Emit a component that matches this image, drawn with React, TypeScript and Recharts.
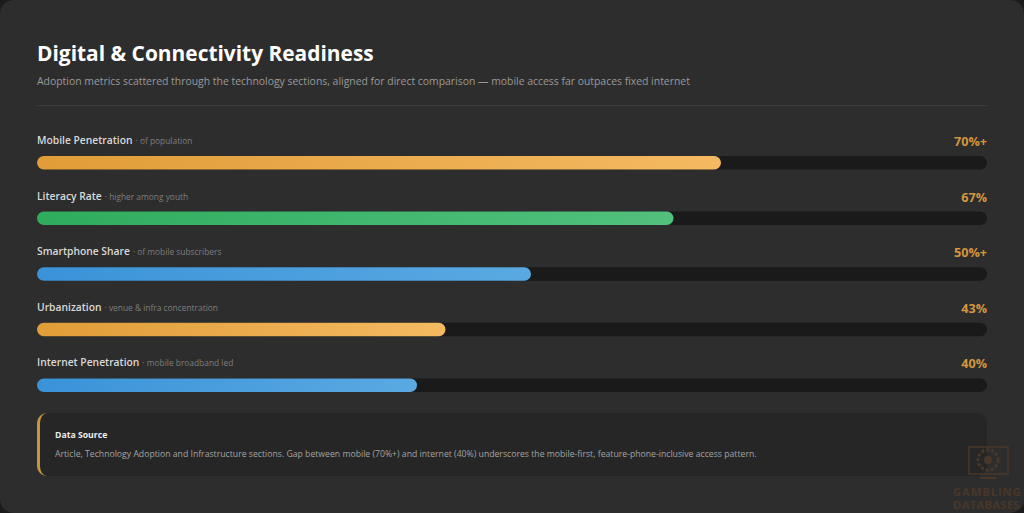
import { BarChart, Bar, XAxis, YAxis, Cell, LabelList } from "recharts";

const metrics = ["Mobile Penetration", "Literacy Rate", "Smartphone Share", "Urbanization", "Internet Penetration"];
const notes = ["of population", "higher among youth", "of mobile subscribers", "venue & infra concentration", "mobile broadband led"];
const fills = [72, 67, 52, 43, 40];
const valueLabels = ["70%+", "67%", "50%+", "43%", "40%"];
const tones = ["amber", "green", "blue", "amber", "blue"];

const FONT = '"Open Sans", "Noto Sans", sans-serif';
const rows = metrics.map((metric, i) => ({
  metric,
  note: notes[i],
  fill: fills[i],
  valueLabel: valueLabels[i],
  tone: tones[i],
}));

function RowLabel(props: any) {
  const { x, y, index } = props;
  const row = rows[index];
  return (
    <text x={x} y={y - 12} fontFamily={FONT}>
      <tspan fontSize={10.3} fontWeight={600} fill="#d9d9d9">{row.metric}</tspan>
      <tspan fontSize={8.4} fill="#7d7d7d" dx={3}>{"· " + row.note}</tspan>
    </text>
  );
}

function RowValue(props: any) {
  const { y, index } = props;
  return (
    <text x={950} y={y - 10} textAnchor="end" fontFamily={FONT} fontSize={12.6} fontWeight={700} fill="#d3963f">
      {rows[index].valueLabel}
    </text>
  );
}

export default function App() {
  return (
    <div style={{ position: "fixed", left: 0, top: 0, width: 1024, height: 513, background: "#1b1b1b", overflow: "hidden", fontFamily: FONT }}>
      <div style={{ position: "absolute", inset: 0, background: "#2d2d2d", borderRadius: 14 }} />
      <div style={{ position: "absolute", left: 37, top: 38, fontSize: 20.9, fontWeight: 700, color: "#ffffff", lineHeight: "30px", whiteSpace: "nowrap" }}>
        Digital &amp; Connectivity Readiness
      </div>
      <div style={{ position: "absolute", left: 37, top: 73, fontSize: 10.42, color: "#9a9a9a", lineHeight: "16px", whiteSpace: "nowrap" }}>
        Adoption metrics scattered through the technology sections, aligned for direct comparison — mobile access far outpaces fixed internet
      </div>
      <div style={{ position: "absolute", left: 37, top: 105, width: 950, height: 1, background: "#3b3b3b" }} />

      <div style={{ position: "absolute", left: 37, top: 114.5 }}>
        <BarChart width={950} height={298} data={rows} layout="vertical" margin={{ top: 20, right: 0, bottom: 0, left: 0 }}>
          <defs>
            <linearGradient id="tone-amber" x1="0" y1="0" x2="1" y2="0">
              <stop offset="0%" stopColor="#e09d38" />
              <stop offset="100%" stopColor="#f5b961" />
            </linearGradient>
            <linearGradient id="tone-green" x1="0" y1="0" x2="1" y2="0">
              <stop offset="0%" stopColor="#2fac5e" />
              <stop offset="100%" stopColor="#52c07e" />
            </linearGradient>
            <linearGradient id="tone-blue" x1="0" y1="0" x2="1" y2="0">
              <stop offset="0%" stopColor="#3a93d8" />
              <stop offset="100%" stopColor="#5aa9e2" />
            </linearGradient>
          </defs>
          <XAxis type="number" domain={[0, 100]} hide />
          <YAxis type="category" dataKey="metric" hide />
          <Bar
            dataKey="fill"
            barSize={13.5}
            radius={7}
            background={{ fill: "#1a1a1a", radius: 7 }}
            isAnimationActive={false}
          >
            {rows.map((row) => (
              <Cell key={row.metric} fill={`url(#tone-${row.tone})`} />
            ))}
            <LabelList dataKey="metric" content={RowLabel} />
            <LabelList dataKey="valueLabel" content={RowValue} />
          </Bar>
        </BarChart>
      </div>

      <div style={{ position: "absolute", left: 37, top: 413, width: 950, height: 63, boxSizing: "border-box", background: "#262626", borderRadius: 10, borderLeft: "3px solid #c9963f" }} />
      <div style={{ position: "absolute", left: 55, top: 428, fontSize: 8.7, fontWeight: 700, color: "#ececec", lineHeight: "14px", whiteSpace: "nowrap" }}>
        Data Source
      </div>
      <div style={{ position: "absolute", left: 55, top: 447, fontSize: 8.68, color: "#a3a3a3", lineHeight: "14px", whiteSpace: "nowrap" }}>
        Article, Technology Adoption and Infrastructure sections. Gap between mobile (70%+) and internet (40%) underscores the mobile-first, feature-phone-inclusive access pattern.
      </div>

      <svg width={74} height={40} style={{ position: "absolute", left: 950, top: 445 }}>
        <rect x={19} y={2} width={39} height={27} fill="none" stroke="#483729" strokeWidth={1.5} />
        <circle cx={38} cy={15} r={10} fill="none" stroke="#483729" strokeWidth={3} strokeDasharray="3 2" />
        <circle cx={38} cy={15} r={4} fill="#483729" />
        <path d="M30 33h16" stroke="#483729" strokeWidth={2} />
      </svg>
      <div style={{ position: "absolute", left: 953, top: 485, fontSize: 11.4, letterSpacing: 0.8, fontWeight: 700, color: "#483729", lineHeight: "13px", whiteSpace: "nowrap" }}>GAMBLING</div>
      <div style={{ position: "absolute", left: 953, top: 498, fontSize: 11.4, letterSpacing: 0.2, fontWeight: 700, color: "#483729", lineHeight: "13px", whiteSpace: "nowrap" }}>DATABASES</div>
    </div>
  );
}
